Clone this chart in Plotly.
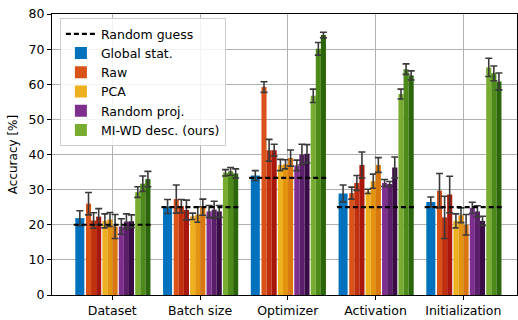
import plotly.graph_objects as go

# Accuracy (%) per hyper-parameter task; each descriptor has up to three variants
categories = ["Dataset", "Batch size", "Optimizer", "Activation", "Initialization"]
chance = [20.0, 25.0, 33.33, 25.0, 25.0]

global_stat = [21.9, 25.2, 34.0, 28.9, 26.5]
global_stat_err = [2.1, 2.0, 1.4, 2.4, 1.4]

raw = [[26.0, 21.2, 22.3], [27.3, 25.3, 24.2], [59.2, 41.2, 41.2], [29.0, 31.9, 37.0], [29.7, 22.1, 28.6]]
raw_err = [[3.2, 2.2, 2.3], [4.0, 1.9, 2.8], [1.5, 3.1, 1.7], [1.7, 2.1, 3.7], [4.9, 6.0, 5.2]]

pca = [[21.1, 21.5, 19.5], [22.4, 22.9, 25.0], [37.0, 37.2, 39.0], [29.5, 32.4, 37.0], [21.1, 22.7, 20.0]]
pca_err = [[2.0, 2.0, 3.4], [0.9, 2.2, 2.3], [1.6, 1.3, 2.3], [0.6, 2.0, 2.1], [2.0, 2.1, 2.9]]

rand_proj = [[19.5, 20.9, 21.0], [23.8, 24.3, 23.8], [36.9, 40.0, 40.2], [31.9, 31.6, 36.3], [24.8, 23.8, 21.1]]
rand_proj_err = [[2.2, 2.2, 1.8], [1.7, 2.4, 1.7], [1.5, 2.9, 2.6], [1.0, 0.7, 3.0], [1.6, 1.6, 1.3]]

miwd = [[29.3, 31.7, 33.0], [34.8, 35.2, 34.6], [56.7, 70.1, 74.0], [57.2, 64.3, 62.5], [64.8, 63.1, 60.8]]
miwd_err = [[1.5, 2.2, 2.2], [0.9, 1.1, 1.3], [1.9, 1.8, 0.8], [1.4, 1.5, 1.3], [2.6, 2.1, 2.4]]

methods = [
    ("Raw", raw, raw_err, ["#D95319", "#C0300E", "#A8170A"]),
    ("PCA", pca, pca_err, ["#EDB120", "#E4930F", "#D9760E"]),
    ("Random proj.", rand_proj, rand_proj_err, ["#7E2F8E", "#5A1E6A", "#3A0C45"]),
    ("MI-WD desc. (ours)", miwd, miwd_err, ["#77AC30", "#4E8A1A", "#2C660A"]),
]

# bar geometry in category units
SUB_W = 0.058
SLOT_PITCH = 0.187
SLOT_START = -0.300
GLOBAL_W = 0.103
GLOBAL_C = -0.370
ERR_COLOR = "#3a3a3a"

idx = list(range(len(categories)))
fig = go.Figure()

# chance level per task
gx, gy = [], []
for i, c in zip(idx, chance):
    gx += [i - 0.44, i + 0.44, None]
    gy += [c, c, None]
fig.add_trace(go.Scatter(x=gx, y=gy, mode="lines", name="Random guess",
                         line=dict(color="black", width=2.2, dash="5px,3px")))

fig.add_trace(go.Bar(
    x=[i + GLOBAL_C for i in idx], y=global_stat, width=GLOBAL_W,
    name="Global stat.", marker=dict(color="#0072BD", line=dict(width=0)),
    error_y=dict(type="data", array=global_stat_err, color=ERR_COLOR, thickness=1.6, width=3.5),
))

for k, (name, vals, errs, shades) in enumerate(methods):
    for v in range(3):
        center = SLOT_START + k * SLOT_PITCH + (v + 0.5) * SUB_W
        fig.add_trace(go.Bar(
            x=[i + center for i in idx],
            y=[vals[i][v] for i in idx],
            width=SUB_W,
            name=name,
            legendgroup=name,
            showlegend=(v == 0),
            marker=dict(color=shades[v], line=dict(width=0)),
            error_y=dict(type="data", array=[errs[i][v] for i in idx],
                         color=ERR_COLOR, thickness=1.6, width=3.5),
        ))

font = dict(family="DejaVu Sans", size=12.5, color="black")
fig.update_layout(
    width=518, height=320,
    margin=dict(l=52, r=1, t=14, b=25),
    barmode="overlay",
    plot_bgcolor="white", paper_bgcolor="white",
    font=font,
    showlegend=True,
    legend=dict(x=0.017, y=0.985, xanchor="left", yanchor="top",
                bgcolor="rgba(255,255,255,0.85)", bordercolor="#cccccc", borderwidth=1,
                font=font, tracegroupgap=0, itemwidth=30),
    xaxis=dict(range=[-0.687, 4.612], tickvals=idx, ticktext=categories,
               showgrid=True, gridcolor="#b0b0b0", gridwidth=1,
               showline=True, linecolor="black", linewidth=1.2, mirror=True,
               ticks="outside", ticklen=4, tickcolor="black", zeroline=False,
               layer="above traces"),
    yaxis=dict(range=[0, 80], dtick=10, title=dict(text="Accuracy [%]", standoff=8, font=dict(size=12)),
               showgrid=True, gridcolor="#b0b0b0", gridwidth=1,
               showline=True, linecolor="black", linewidth=1.2, mirror=True,
               ticks="outside", ticklen=4, tickcolor="black", zeroline=False,
               layer="above traces"),
)

fig.write_html("out.html")
